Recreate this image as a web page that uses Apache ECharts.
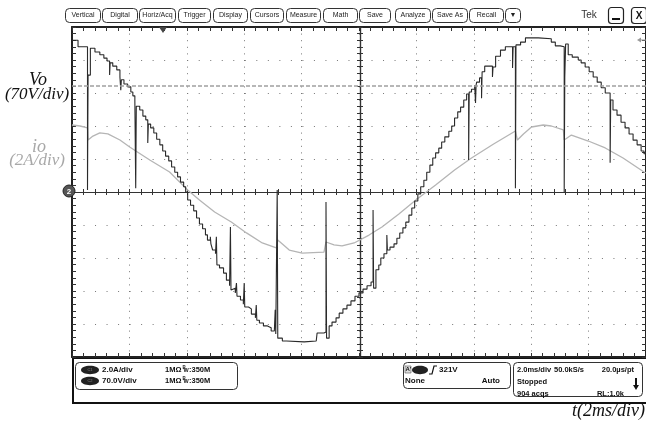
<!DOCTYPE html>
<html><head><meta charset="utf-8">
<script src="https://cdn.jsdelivr.net/npm/echarts@6/dist/echarts.min.js"></script>
<style>html,body{margin:0;padding:0;background:#fff;}#c{width:646px;height:421px;}</style>
</head><body><div id="c"></div>
<script>
// ---- data (time in ms, voltage in V, current in A) ----
const voltageTimes = [0.00,0.21,0.54,0.56,0.64,0.80,0.97,1.11,1.22,1.31,1.33,1.42,1.56,1.67,1.70,1.72,1.81,1.94,2.05,2.12,2.19,2.22,2.24,2.36,2.47,2.57,2.64,2.66,2.74,2.85,2.95,3.06,3.16,3.26,3.37,3.47,3.58,3.68,3.78,3.89,3.96,4.03,4.13,4.24,4.34,4.44,4.55,4.65,4.72,4.82,4.84,4.90,5.00,5.03,5.05,5.14,5.28,5.38,5.49,5.52,5.54,5.59,5.69,5.73,5.75,5.87,5.97,6.00,6.02,6.15,6.25,6.39,6.42,6.44,6.53,6.67,6.81,6.94,7.05,7.08,7.10,7.15,7.17,7.33,7.47,8.09,8.51,8.54,8.78,8.85,8.87,8.96,9.06,9.20,9.31,9.44,9.58,9.72,9.86,10.00,10.14,10.28,10.42,10.49,10.51,10.59,10.69,10.76,10.87,10.97,10.99,11.08,11.22,11.32,11.42,11.53,11.63,11.74,11.84,11.94,12.05,12.15,12.26,12.36,12.47,12.57,12.67,12.78,12.88,12.99,13.13,13.23,13.33,13.44,13.54,13.65,13.75,13.82,13.84,13.92,14.03,14.06,14.08,14.10,14.20,14.27,14.29,14.38,14.65,14.67,14.76,14.93,15.10,15.35,15.37,15.45,15.47,15.63,15.80,16.25,16.70,16.84,17.01,17.15,17.17,17.20,17.29,17.43,17.64,17.74,17.88,18.02,18.16,18.30,18.44,18.58,18.75,18.77,18.85,18.99,19.13,19.27,19.41,19.55,19.69,19.83,19.93,20.00];
const voltageValues = [322,308,4,248,305,297,291,284,278,248,274,267,259,244,216,238,229,223,212,204,193,8,182,174,161,153,104,144,136,125,112,100,87,76,66,53,42,32,21,11,0,-17,-28,-40,-55,-68,-78,-91,-102,-95,-110,-123,-131,-95,-155,-161,-172,-187,-199,-74,-208,-204,-214,-193,-221,-229,-238,-193,-244,-248,-259,-267,-240,-272,-278,-284,-288,-295,-299,-250,-301,4,-310,-316,-318,-316,-312,-299,-297,-21,-310,-284,-276,-267,-257,-248,-240,-231,-221,-214,-206,-199,-191,-38,-204,-165,-155,-140,-131,-91,-123,-117,-110,-98,-87,-76,-64,-49,-34,-19,-4,11,25,42,57,72,83,93,106,117,129,140,157,170,180,195,208,68,212,218,227,189,227,233,242,199,255,267,244,265,288,301,308,263,308,8,312,318,327,325,318,310,308,0,244,314,291,286,280,274,265,255,244,233,221,210,62,195,174,163,148,136,123,110,100,87,81,78];
const currentTimes = [0.00,0.28,0.54,0.56,0.73,0.97,1.25,1.67,2.01,2.71,3.40,4.03,4.44,4.97,5.55,6.08,6.63,7.12,7.17,7.57,8.02,8.78,8.85,9.13,9.41,9.83,10.35,10.80,11.39,11.98,12.67,13.33,13.92,14.69,15.45,15.52,15.73,16.01,16.42,16.70,17.12,17.15,17.40,17.99,18.58,19.20,19.93,20.00];
const currentValues = [4.06,4.00,3.88,3.15,3.39,3.58,3.52,3.15,2.73,1.94,1.21,0.12,-0.48,-1.21,-1.82,-2.48,-3.09,-3.39,-2.91,-3.52,-3.70,-3.64,-3.03,-3.21,-3.27,-3.09,-2.61,-2.12,-1.33,-0.48,0.42,1.33,2.06,2.91,3.70,3.15,3.52,3.94,4.06,4.00,3.76,3.15,3.45,3.09,2.67,2.06,1.21,1.15];
const referenceLevel = 225;      // V, grey dashed level
const timePerDiv = 2;            // ms/div
const voltPerDiv = 70;           // V/div
const ampPerDiv = 2;             // A/div
const menuLabels = ['Vertical','Digital','Horiz/Acq','Trigger','Display','Cursors','Measure','Math','Save','Analyze','Save As','Recall','\u25BC'];

// ---- layout (not data) ----
const menuBoxes = [[65,100],[102,137],[139,175],[178,210],[213,247],[250,283],[286,320],[323,357],[359,390],[395,430],[432,467],[469,503],[505,520]];

const chart = echarts.init(document.getElementById('c'), null, {renderer:'canvas'});
const voltageData = voltageTimes.map((t,i)=>[t, voltageValues[i]]);
const currentData = currentTimes.map((t,i)=>[t, currentValues[i]]);

function frameX(pos, split){
  return {type:'value', min:0, max:10*timePerDiv, interval:timePerDiv, position:pos,
    axisLine:{show:true, onZero:false, lineStyle:{color:'#222', width:2}},
    axisTick:{show:true, inside:true, length:4, lineStyle:{color:'#333', width:1}},
    minorTick:{show:true, splitNumber:5, length:4, lineStyle:{color:'#333', width:1}},
    axisLabel:{show:false},
    splitLine:{show:split, lineStyle:{color:'#777', width:1, type:[1,5.6]}},
    minorSplitLine:{show:false}};
}
function centerX(inside){
  return {type:'value', min:0, max:10*timePerDiv, interval:timePerDiv, position:'bottom', offset:-165,
    axisLine:{show:true, onZero:false, lineStyle:{color:'#333', width:1.2}},
    axisTick:{show:true, inside:inside, length:3, lineStyle:{color:'#333', width:1}},
    minorTick:{show:true, splitNumber:5, length:3, lineStyle:{color:'#333', width:1}},
    axisLabel:{show:false}, splitLine:{show:false}};
}
function frameY(pos, split){
  return {type:'value', min:-5*voltPerDiv, max:5*voltPerDiv, interval:voltPerDiv, position:pos,
    axisLine:{show:true, onZero:false, lineStyle:{color:'#222', width:2}},
    axisTick:{show:true, inside:true, length:4, lineStyle:{color:'#333', width:1}},
    minorTick:{show:true, splitNumber:5, length:4, lineStyle:{color:'#333', width:1}},
    axisLabel:{show:false},
    splitLine:{show:split, lineStyle:{color:'#777', width:1, type:[1,10.52]}},
    minorSplitLine:{show:false}};
}
function centerY(inside){
  return {type:'value', min:-5*voltPerDiv, max:5*voltPerDiv, interval:voltPerDiv, position:'left', offset:-288,
    axisLine:{show:true, onZero:false, lineStyle:{color:'#333', width:1.2}},
    axisTick:{show:true, inside:inside, length:3, lineStyle:{color:'#333', width:1}},
    minorTick:{show:true, splitNumber:5, length:3, lineStyle:{color:'#333', width:1}},
    axisLabel:{show:false}, splitLine:{show:false}};
}

const els = [];
// menu buttons
menuLabels.forEach((lab,i)=>{
  const [a,b] = menuBoxes[i];
  els.push({type:'rect', shape:{x:a+0.5, y:8.5, width:b-a, height:14, r:4}, style:{fill:'#fff', stroke:'#333', lineWidth:1}});
  els.push({type:'text', style:{text:lab, x:(a+b)/2+0.5, y:15.5, fontSize:7, fontFamily:'"Liberation Sans", Arial', fill:'#222', align:'center', verticalAlign:'middle'}});
});
els.push({type:'text', style:{text:'Tek', x:589, y:15, fontSize:10, fontFamily:'"Liberation Sans", Arial', fill:'#333', align:'center', verticalAlign:'middle'}});
els.push({type:'rect', shape:{x:608.5, y:7.5, width:15, height:16, r:3}, style:{fill:'#fff', stroke:'#222', lineWidth:1.2}});
els.push({type:'line', shape:{x1:612, y1:19, x2:620, y2:19}, style:{stroke:'#111', lineWidth:2}});
els.push({type:'rect', shape:{x:631.5, y:7.5, width:15, height:16, r:3}, style:{fill:'#fff', stroke:'#222', lineWidth:1.2}});
els.push({type:'text', style:{text:'X', x:639, y:16, fontSize:10, fontWeight:'bold', fontFamily:'"Liberation Sans", Arial', fill:'#111', align:'center', verticalAlign:'middle'}});
// trigger position marker & trigger level arrow
els.push({type:'polygon', shape:{points:[[159,27],[167,27],[163,33]]}, style:{fill:'#444'}, z:10});
els.push({type:'polygon', shape:{points:[[637,40],[641,37.5],[641,42.5]]}, style:{fill:'#999'}, z:10});
els.push({type:'line', shape:{x1:640, y1:40, x2:646, y2:40}, style:{stroke:'#999', lineWidth:1}, z:10});
// channel 2 ground marker
els.push({type:'circle', shape:{cx:69, cy:191, r:6}, style:{fill:'#555', stroke:'#222', lineWidth:1}, z:10});
els.push({type:'text', style:{text:'2', x:69, y:191.5, fontSize:8, fontWeight:'bold', fontFamily:'"Liberation Sans", Arial', fill:'#fff', align:'center', verticalAlign:'middle'}, z:11});
// left labels
const serif = '"Liberation Serif", "DejaVu Serif", serif';
els.push({type:'text', style:{text:'Vo', x:38, y:80, fontSize:18, fontStyle:'italic', fontFamily:serif, fill:'#111', align:'center', verticalAlign:'middle'}});
els.push({type:'text', style:{text:'(70V/div)', x:37, y:95, fontSize:17, fontStyle:'italic', fontFamily:serif, fill:'#111', align:'center', verticalAlign:'middle'}});
els.push({type:'text', style:{text:'io', x:39, y:147, fontSize:18, fontStyle:'italic', fontFamily:serif, fill:'#a8a8a8', align:'center', verticalAlign:'middle'}});
els.push({type:'text', style:{text:'(2A/div)', x:37, y:161, fontSize:17, fontStyle:'italic', fontFamily:serif, fill:'#a8a8a8', align:'center', verticalAlign:'middle'}});
els.push({type:'text', style:{text:'t(2ms/div)', x:645, y:411, fontSize:18, fontStyle:'italic', fontFamily:serif, fill:'#111', align:'right', verticalAlign:'middle'}});
// bottom panel
els.push({type:'rect', shape:{x:73, y:358, width:580, height:45}, style:{fill:'#fff', stroke:'#111', lineWidth:2}});
const sans = '"Liberation Sans", Arial, sans-serif';
function txt(t,x,y,size,align,weight){ els.push({type:'text', style:{text:t, x:x, y:y, fontSize:size||8, fontWeight:weight||'bold', fontFamily:sans, fill:'#111', align:align||'left', verticalAlign:'middle'}}); }
els.push({type:'rect', shape:{x:75.5, y:362.5, width:162, height:27, r:4}, style:{fill:'#fff', stroke:'#333', lineWidth:1}});
[['C1',370,'2.0A/div'],['C2',381,'70.0V/div']].forEach(([c,y,s])=>{
  els.push({type:'ellipse', shape:{cx:90, cy:y, rx:9, ry:4.2}, style:{fill:'#222'}});
  els.push({type:'text', style:{text:c, x:90, y:y, fontSize:4, fontFamily:sans, fill:'#888', align:'center', verticalAlign:'middle'}});
  txt(s,102,y);
  txt('1M\u03A9',165,y,7.5);
  txt('B',182.5,y-2.5,4.5);
  txt('W',183.5,y+0.5,5.5);
  txt(':350M',189,y,7.5);
});
els.push({type:'rect', shape:{x:403.5, y:362.5, width:107, height:26, r:4}, style:{fill:'#fff', stroke:'#333', lineWidth:1}});
els.push({type:'rect', shape:{x:405, y:366, width:6, height:7}, style:{fill:'#ddd', stroke:'#555', lineWidth:0.6}});
txt("A'",405.5,369.5,6);
els.push({type:'ellipse', shape:{cx:420, cy:370, rx:8, ry:4.2}, style:{fill:'#222'}});
els.push({type:'polyline', shape:{points:[[429,374],[432,374],[434,366],[437,366]]}, style:{stroke:'#111', lineWidth:1.2, fill:null}});
txt('321V',439,369.5);
txt('None',405,381);
txt('Auto',500,381,8,'right');
els.push({type:'rect', shape:{x:513.5, y:362.5, width:129, height:34, r:4}, style:{fill:'#fff', stroke:'#333', lineWidth:1}});
txt('2.0ms/div',517,369.5,7.5);
txt('50.0kS/s',554,369.5,7.5);
txt('20.0\u00B5s/pt',634,369.5,7.5,'right');
txt('Stopped',517,382,7.5);
txt('904 acqs',517,394,7.5);
txt('RL:1.0k',624,394,7.5,'right');
els.push({type:'line', shape:{x1:636, y1:378, x2:636, y2:386}, style:{stroke:'#111', lineWidth:2}});
els.push({type:'polygon', shape:{points:[[633,385],[639,385],[636,390]]}, style:{fill:'#111'}});

chart.setOption({
  animation:false,
  backgroundColor:'#fff',
  grid:{left:72, top:27, width:576, height:330, containLabel:false},
  xAxis:[frameX('bottom',true), frameX('top',false), centerX(true), centerX(false)],
  yAxis:[frameY('left',true), frameY('right',false),
    {type:'value', min:-5*ampPerDiv, max:5*ampPerDiv, interval:ampPerDiv, show:false},
    centerY(true), centerY(false)],
  series:[
    {name:'io', type:'line', xAxisIndex:0, yAxisIndex:2, data:currentData, symbol:'none',
      lineStyle:{color:'#b5b5b5', width:1.3}, z:3},
    {name:'Vo', type:'line', xAxisIndex:0, yAxisIndex:0, data:voltageData, step:'end', symbol:'none',
      lineStyle:{color:'#2a2a2a', width:1.1}, z:4,
      markLine:{silent:true, symbol:'none', label:{show:false},
        lineStyle:{color:'#a0a0a0', width:1.5, type:[4,2]},
        data:[{yAxis:referenceLevel}]}}
  ],
  graphic:{elements:els}
});
</script></body></html>
